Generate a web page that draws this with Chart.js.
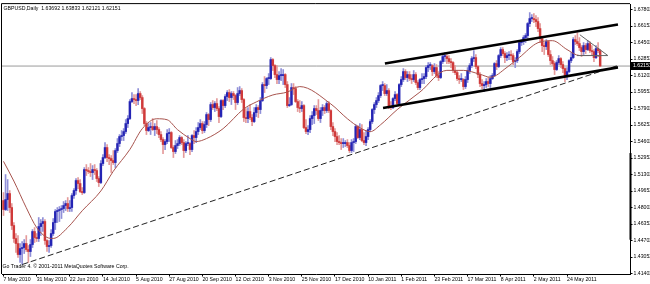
<!DOCTYPE html>
<html><head><meta charset="utf-8">
<script src="https://cdn.jsdelivr.net/npm/chart.js@4.4.1/dist/chart.umd.min.js"></script>
<style>html,body{margin:0;padding:0;background:#fff;overflow:hidden}canvas{display:block}</style>
</head><body>
<canvas id="c" width="650" height="284"></canvas>
<script>
// ---------------- data ----------------
const tickLabels = ["7 May 2010","31 May 2010","22 Jun 2010","14 Jul 2010","5 Aug 2010","27 Aug 2010","20 Sep 2010","12 Oct 2010","3 Nov 2010","25 Nov 2010","17 Dec 2010","10 Jan 2011","1 Feb 2011","23 Feb 2011","17 Mar 2011","8 Apr 2011","2 May 2011","24 May 2011"];
const barsPerLabel = 16;
const yTicks = [1.41402,1.43052,1.44702,1.46352,1.48002,1.49652,1.51302,1.52952,1.54602,1.56252,1.57902,1.59552,1.61202,1.62852,1.64502,1.66152,1.67802];

const opens = [
1.4870,1.4780,1.4880,1.4940,1.4800,1.4620,1.4490,1.4440,1.4330,1.4390,
1.4400,1.4440,1.4380,1.4360,1.4430,1.4560,1.4500,1.4490,1.4610,1.4640,
1.4660,1.4470,1.4410,1.4420,1.4540,1.4650,1.4760,1.4770,1.4780,1.4790,
1.4820,1.4840,1.4790,1.4800,1.4920,1.4970,1.5070,1.5040,1.4960,1.4950,
1.5180,1.5170,1.5160,1.5150,1.5180,1.5170,1.5090,1.5050,1.5240,1.5300,
1.5400,1.5300,1.5290,1.5270,1.5250,1.5370,1.5440,1.5510,1.5520,1.5560,
1.5640,1.5690,1.5860,1.5890,1.5880,1.5870,1.5940,1.5900,1.5790,1.5640,
1.5570,1.5600,1.5610,1.5580,1.5610,1.5580,1.5530,1.5480,1.5430,1.5460,
1.5540,1.5550,1.5400,1.5360,1.5420,1.5440,1.5500,1.5450,1.5370,1.5440,
1.5440,1.5380,1.5520,1.5500,1.5560,1.5600,1.5640,1.5570,1.5630,1.5730,
1.5680,1.5830,1.5800,1.5840,1.5790,1.5710,1.5870,1.5820,1.5910,1.5950,
1.5900,1.5940,1.5920,1.5850,1.5940,1.5970,1.5880,1.5700,1.5690,1.5760,
1.5700,1.5660,1.5750,1.5800,1.5780,1.5870,1.6030,1.6020,1.6090,1.6090,
1.6280,1.6220,1.6130,1.6080,1.6120,1.6120,1.6130,1.6030,1.5820,1.5830,
1.6000,1.5990,1.5860,1.5800,1.5790,1.5820,1.5600,1.5560,1.5580,1.5690,
1.5720,1.5790,1.5770,1.5690,1.5770,1.5800,1.5770,1.5840,1.5770,1.5610,
1.5560,1.5510,1.5460,1.5450,1.5440,1.5440,1.5450,1.5420,1.5370,1.5450,
1.5460,1.5610,1.5500,1.5580,1.5470,1.5450,1.5510,1.5580,1.5660,1.5780,
1.5830,1.5870,1.5920,1.6020,1.6020,1.5940,1.5970,1.5810,1.5800,1.5890,
1.5930,1.5840,1.6030,1.6080,1.6160,1.6100,1.6130,1.6090,1.6080,1.6130,
1.6050,1.6000,1.6080,1.6090,1.6110,1.6200,1.6220,1.6220,1.6160,1.6200,
1.6120,1.6100,1.6260,1.6310,1.6310,1.6290,1.6260,1.6250,1.6170,1.6150,
1.6090,1.6080,1.6080,1.6010,1.6080,1.6170,1.6220,1.6290,1.6300,1.6210,
1.6130,1.6040,1.6020,1.6030,1.6060,1.6040,1.6090,1.6120,1.6240,1.6210,
1.6320,1.6380,1.6340,1.6300,1.6320,1.6330,1.6320,1.6260,1.6270,1.6360,
1.6450,1.6460,1.6500,1.6520,1.6640,1.6690,1.6690,1.6680,1.6660,1.6590,
1.6490,1.6420,1.6410,1.6460,1.6330,1.6270,1.6240,1.6180,1.6250,1.6290,
1.6230,1.6190,1.6110,1.6160,1.6270,1.6300,1.6480,1.6460,1.6440,1.6400,
1.6360,1.6420,1.6380,1.6440,1.6370,1.6360,1.6300,1.6390,1.63692];

const highs = [
1.4950,1.5130,1.5080,1.4970,1.4840,1.4650,1.4540,1.4520,1.4440,1.4460,
1.4480,1.4520,1.4420,1.4480,1.4580,1.4600,1.4540,1.4700,1.4680,1.4700,
1.4680,1.4480,1.4470,1.4580,1.4690,1.4780,1.4800,1.4810,1.4820,1.4860,
1.4870,1.4900,1.4870,1.4940,1.4990,1.5090,1.5100,1.5080,1.5000,1.5200,
1.5230,1.5200,1.5240,1.5220,1.5230,1.5190,1.5110,1.5270,1.5330,1.5450,
1.5430,1.5330,1.5320,1.5370,1.5390,1.5490,1.5530,1.5570,1.5590,1.5680,
1.5720,1.5880,1.5950,1.5930,1.5930,1.5990,1.5960,1.5920,1.5800,1.5660,
1.5640,1.5650,1.5690,1.5640,1.5670,1.5600,1.5560,1.5500,1.5480,1.5580,
1.5590,1.5560,1.5420,1.5470,1.5480,1.5520,1.5510,1.5480,1.5460,1.5520,
1.5450,1.5530,1.5570,1.5600,1.5650,1.5680,1.5660,1.5660,1.5750,1.5740,
1.5850,1.5870,1.5860,1.5890,1.5810,1.5880,1.5880,1.5930,1.5970,1.5980,
1.5960,1.5960,1.5930,1.6000,1.6010,1.5990,1.5890,1.5790,1.5800,1.5830,
1.5730,1.5800,1.5830,1.5820,1.5900,1.6050,1.6110,1.6100,1.6140,1.6300,
1.6290,1.6230,1.6220,1.6160,1.6190,1.6180,1.6140,1.6060,1.5900,1.6040,
1.6040,1.6010,1.5880,1.5870,1.5860,1.5830,1.5680,1.5620,1.5720,1.5760,
1.5820,1.5820,1.5880,1.5800,1.5830,1.5820,1.5860,1.5860,1.5780,1.5650,
1.5590,1.5550,1.5520,1.5490,1.5490,1.5470,1.5480,1.5450,1.5480,1.5490,
1.5630,1.5620,1.5640,1.5630,1.5550,1.5570,1.5600,1.5680,1.5790,1.5850,
1.5900,1.5950,1.6030,1.6060,1.6040,1.6030,1.5990,1.5860,1.5900,1.5960,
1.5940,1.6040,1.6110,1.6190,1.6180,1.6160,1.6160,1.6130,1.6170,1.6150,
1.6070,1.6090,1.6140,1.6140,1.6220,1.6250,1.6250,1.6230,1.6240,1.6230,
1.6160,1.6270,1.6340,1.6350,1.6330,1.6320,1.6290,1.6260,1.6220,1.6170,
1.6120,1.6140,1.6090,1.6110,1.6200,1.6240,1.6310,1.6370,1.6330,1.6220,
1.6150,1.6080,1.6060,1.6090,1.6100,1.6120,1.6140,1.6250,1.6270,1.6330,
1.6400,1.6400,1.6360,1.6350,1.6360,1.6370,1.6340,1.6300,1.6380,1.6470,
1.6480,1.6520,1.6540,1.6650,1.6750,1.6730,1.6740,1.6720,1.6700,1.6640,
1.6500,1.6450,1.6480,1.6470,1.6370,1.6310,1.6260,1.6270,1.6320,1.6300,
1.6260,1.6200,1.6200,1.6280,1.6350,1.6500,1.6520,1.6550,1.6500,1.6420,
1.6450,1.6440,1.6470,1.6460,1.6420,1.6380,1.6420,1.6450,1.63833];

const lows = [
1.4720,1.4770,1.4770,1.4750,1.4580,1.4450,1.4350,1.4300,1.4250,1.4230,
1.4340,1.4360,1.4250,1.4310,1.4400,1.4450,1.4460,1.4460,1.4520,1.4560,
1.4430,1.4360,1.4350,1.4400,1.4520,1.4580,1.4650,1.4660,1.4690,1.4750,
1.4770,1.4760,1.4760,1.4760,1.4890,1.4930,1.4990,1.4950,1.4930,1.4940,
1.5120,1.5140,1.5110,1.5080,1.5130,1.5060,1.5010,1.5040,1.5220,1.5290,
1.5260,1.5230,1.5150,1.5230,1.5200,1.5350,1.5410,1.5470,1.5470,1.5540,
1.5600,1.5680,1.5850,1.5840,1.5820,1.5830,1.5880,1.5740,1.5620,1.5530,
1.5560,1.5530,1.5570,1.5520,1.5540,1.5500,1.5460,1.5340,1.5380,1.5440,
1.5460,1.5390,1.5300,1.5340,1.5390,1.5420,1.5430,1.5300,1.5350,1.5420,
1.5330,1.5360,1.5440,1.5450,1.5530,1.5580,1.5540,1.5550,1.5600,1.5620,
1.5660,1.5780,1.5760,1.5770,1.5650,1.5700,1.5780,1.5800,1.5870,1.5860,
1.5830,1.5880,1.5780,1.5830,1.5920,1.5850,1.5660,1.5650,1.5650,1.5680,
1.5620,1.5650,1.5710,1.5700,1.5740,1.5860,1.5950,1.5990,1.6030,1.6080,
1.6170,1.6100,1.6040,1.6040,1.6070,1.6030,1.6000,1.5800,1.5810,1.5820,
1.5930,1.5850,1.5760,1.5750,1.5760,1.5590,1.5540,1.5530,1.5550,1.5630,
1.5640,1.5730,1.5670,1.5650,1.5720,1.5740,1.5750,1.5750,1.5580,1.5520,
1.5460,1.5430,1.5430,1.5380,1.5400,1.5410,1.5400,1.5350,1.5350,1.5360,
1.5440,1.5490,1.5480,1.5460,1.5430,1.5420,1.5480,1.5560,1.5640,1.5740,
1.5800,1.5850,1.5900,1.5970,1.5920,1.5920,1.5790,1.5780,1.5790,1.5870,
1.5830,1.5820,1.6010,1.6060,1.6080,1.6060,1.6070,1.6040,1.6060,1.6030,
1.5980,1.5980,1.6040,1.6040,1.6090,1.6160,1.6180,1.6120,1.6140,1.6100,
1.6070,1.6090,1.6240,1.6260,1.6240,1.6240,1.6200,1.6150,1.6130,1.6070,
1.6040,1.6060,1.5980,1.5990,1.6050,1.6140,1.6200,1.6260,1.6190,1.6100,
1.6010,1.5990,1.5960,1.6000,1.6010,1.6000,1.6080,1.6110,1.6180,1.6200,
1.6300,1.6320,1.6250,1.6270,1.6280,1.6280,1.6230,1.6200,1.6250,1.6340,
1.6420,1.6430,1.6450,1.6490,1.6610,1.6660,1.6650,1.6610,1.6560,1.6450,
1.6360,1.6330,1.6380,1.6310,1.6230,1.6220,1.6130,1.6170,1.6230,1.6200,
1.6150,1.6060,1.6080,1.6150,1.6250,1.6290,1.6430,1.6420,1.6370,1.6310,
1.6330,1.6340,1.6370,1.6350,1.6320,1.6260,1.6290,1.6350,1.62121];

const closes = [
1.4780,1.4880,1.4940,1.4800,1.4620,1.4490,1.4440,1.4330,1.4390,1.4400,
1.4440,1.4380,1.4360,1.4430,1.4560,1.4500,1.4490,1.4610,1.4640,1.4660,
1.4470,1.4410,1.4420,1.4540,1.4650,1.4760,1.4770,1.4780,1.4790,1.4820,
1.4840,1.4790,1.4800,1.4920,1.4970,1.5070,1.5040,1.4960,1.4950,1.5180,
1.5170,1.5160,1.5150,1.5180,1.5170,1.5090,1.5050,1.5240,1.5300,1.5400,
1.5300,1.5290,1.5270,1.5250,1.5370,1.5440,1.5510,1.5520,1.5560,1.5640,
1.5690,1.5860,1.5890,1.5880,1.5870,1.5940,1.5900,1.5790,1.5640,1.5570,
1.5600,1.5610,1.5580,1.5610,1.5580,1.5530,1.5480,1.5430,1.5460,1.5540,
1.5550,1.5400,1.5360,1.5420,1.5440,1.5500,1.5450,1.5370,1.5440,1.5440,
1.5380,1.5520,1.5500,1.5560,1.5600,1.5640,1.5570,1.5630,1.5730,1.5680,
1.5830,1.5800,1.5840,1.5790,1.5710,1.5870,1.5820,1.5910,1.5950,1.5900,
1.5940,1.5920,1.5850,1.5940,1.5970,1.5880,1.5700,1.5690,1.5760,1.5700,
1.5660,1.5750,1.5800,1.5780,1.5870,1.6030,1.6020,1.6090,1.6090,1.6280,
1.6220,1.6130,1.6080,1.6120,1.6120,1.6130,1.6030,1.5820,1.5830,1.6000,
1.5990,1.5860,1.5800,1.5790,1.5820,1.5600,1.5560,1.5580,1.5690,1.5720,
1.5790,1.5770,1.5690,1.5770,1.5800,1.5770,1.5840,1.5770,1.5610,1.5560,
1.5510,1.5460,1.5450,1.5440,1.5440,1.5450,1.5420,1.5370,1.5450,1.5460,
1.5610,1.5500,1.5580,1.5470,1.5450,1.5510,1.5580,1.5660,1.5780,1.5830,
1.5870,1.5920,1.6020,1.6020,1.5940,1.5970,1.5810,1.5800,1.5890,1.5930,
1.5840,1.6030,1.6080,1.6160,1.6100,1.6130,1.6090,1.6080,1.6130,1.6050,
1.6000,1.6080,1.6090,1.6110,1.6200,1.6220,1.6220,1.6160,1.6200,1.6120,
1.6100,1.6260,1.6310,1.6310,1.6290,1.6260,1.6250,1.6170,1.6150,1.6090,
1.6080,1.6080,1.6010,1.6080,1.6170,1.6220,1.6290,1.6300,1.6210,1.6130,
1.6040,1.6020,1.6030,1.6060,1.6040,1.6090,1.6120,1.6240,1.6210,1.6320,
1.6380,1.6340,1.6300,1.6320,1.6330,1.6320,1.6260,1.6270,1.6360,1.6450,
1.6460,1.6500,1.6520,1.6640,1.6690,1.6690,1.6680,1.6660,1.6590,1.6490,
1.6420,1.6410,1.6460,1.6330,1.6270,1.6240,1.6180,1.6250,1.6290,1.6230,
1.6190,1.6110,1.6160,1.6270,1.6300,1.6480,1.6460,1.6440,1.6400,1.6360,
1.6420,1.6380,1.6440,1.6370,1.6360,1.6300,1.6390,1.6369,1.62151];

// moving average: [bar index, price]
const maPoints = [[0,1.5262],[5,1.5065],[11,1.4798],[16,1.4600],[21,1.4501],[24,1.4491],[31,1.4600],[38,1.4768],[47,1.4966],[53,1.5163],[61,1.5381],[67,1.5589],[74,1.5688],[79,1.5678],[84,1.5579],[90,1.5490],[93,1.5460],[98,1.5490],[106,1.5589],[116,1.5787],[122,1.5856],[130,1.5926],[137,1.5955],[143,1.6010],[158,1.5836],[166,1.5688],[172,1.5599],[177,1.5559],[182,1.5628],[190,1.5779],[196,1.5876],[201,1.5955],[214,1.6172],[222,1.6172],[230,1.6133],[235,1.6103],[243,1.6202],[249,1.6301],[258,1.6449],[265,1.6469],[272,1.6380],[278,1.6321],[285,1.6321],[288,1.6311]];

// drawn objects: [bar index, price]
const upperChannel = [[184.1,1.6241],[296.6,1.6630]];
const lowerChannel = [[183.2,1.5796],[296.6,1.6202]];
const supportLine  = [[9,1.4230],[296.6,1.6221]];
const triangleLine = [[278.2,1.6528],[291.7,1.6320]];
const triangleBase = [[276.8,1.6320],[291.7,1.6320]];
const lastPrice = 1.62151;
const axisMarkRange = [1.4478, 1.5345];
const titleText = "GBPUSD,Daily  1.63692 1.63833 1.62121 1.62151";
const footerText = "Go Trader 4. \u00A9 2001-2011 MetaQuotes Software Corp.";

// ---------------- fonts ----------------
function hasFont(name){
  const c=document.createElement('canvas').getContext('2d');
  const s='abcdefghijklmnopqrstuvwxyz0123456789 ABCDEFGH';
  c.font='30px monospace'; const a=c.measureText(s).width;
  c.font='30px "'+name+'", monospace'; const b=c.measureText(s).width;
  return Math.abs(a-b)>0.5;
}
const narrow = hasFont('Liberation Sans Narrow');
const FAMILY = narrow ? '"Liberation Sans Narrow", "Liberation Sans", Arial, sans-serif' : '"Liberation Sans", Arial, sans-serif';
const FSIZE = narrow ? 6.3 : 5.2;

// ---------------- build ----------------
const idx = closes.map((_, i) => i);
const up = i => closes[i] >= opens[i];
const pts = arr => arr.map(p => ({x: p[0], y: p[1]}));
const BULL = '#2424b4', BEAR = '#d03a3a', BULL_W = '#8f8fd8', BEAR_W = '#e49a9a';

const bgPlugin = {
  id: 'bg',
  beforeDraw(chart){ const c=chart.ctx; c.save(); c.fillStyle='#fff'; c.fillRect(0,0,chart.width,chart.height); c.restore(); }
};
const overlay = {
  id: 'overlay',
  afterDraw(chart){
    const {ctx, chartArea:a, scales} = chart; const y = scales.y;
    ctx.save();
    ctx.strokeStyle = '#000'; ctx.lineWidth = 1;
    ctx.beginPath();
    ctx.moveTo(a.left-0.5, a.bottom); ctx.lineTo(a.left-0.5, a.top-0.5); ctx.lineTo(a.right, a.top-0.5);
    ctx.stroke();
    // thick mark on the price axis
    const y1 = y.getPixelForValue(axisMarkRange[1]), y0 = y.getPixelForValue(axisMarkRange[0]);
    ctx.fillStyle = '#000'; ctx.fillRect(a.right-0.5, y1, 2, y0-y1);
    // texts
    ctx.font = FSIZE + 'px ' + FAMILY; ctx.fillStyle = '#000'; ctx.textBaseline = 'middle'; ctx.textAlign = 'left';
    ctx.fillText(titleText, a.left + 1.5, a.top + 4.5);
    ctx.fillText(footerText, a.left + 0.5, a.bottom - 7);
    // last price box
    const py = y.getPixelForValue(lastPrice);
    ctx.fillStyle = '#000'; ctx.fillRect(a.right + 0.5, Math.round(py) - 4, 20, 8);
    ctx.fillStyle = '#fff'; ctx.fillText(lastPrice.toFixed(5), a.right + 3, Math.round(py));
    ctx.restore();
  }
};

new Chart(document.getElementById('c'), {
  type: 'bar',
  data: {
    datasets: [
      { type:'line', data: pts(upperChannel), borderColor:'#000', borderWidth:2.6, pointRadius:0, order:1 },
      { type:'line', data: pts(lowerChannel), borderColor:'#000', borderWidth:2.6, pointRadius:0, order:1 },
      { type:'line', data: pts(supportLine), borderColor:'#222', borderWidth:1, borderDash:[6,3], pointRadius:0, order:1 },
      { type:'line', data: pts(triangleLine), borderColor:'#666', borderWidth:1, pointRadius:0, order:1 },
      { type:'line', data: pts(triangleBase), borderColor:'#666', borderWidth:1, pointRadius:0, order:1 },
      { type:'line', data: pts(maPoints), borderColor:'#a8544e', borderWidth:1, pointRadius:0, cubicInterpolationMode:'monotone', order:2 },
      { type:'bar', data: idx.map(i => ({x:i, y:[opens[i], closes[i]]})), grouped:false, barThickness:1.8, minBarLength:1,
        backgroundColor: ctx => up(ctx.dataIndex) ? BULL : BEAR, borderWidth:0, order:3 },
      { type:'bar', data: idx.map(i => ({x:i, y:[lows[i], highs[i]]})), grouped:false, barThickness:1,
        backgroundColor: ctx => up(ctx.dataIndex) ? BULL_W : BEAR_W, borderWidth:0, order:4 },
      { type:'line', data: [{x:-1, y:lastPrice},{x:303, y:lastPrice}], borderColor:'#9a9a9a', borderWidth:1, pointRadius:0, order:5 }
    ]
  },
  options: {
    responsive:false, animation:false, devicePixelRatio:1,
    layout:{ padding:{left:2, top:1, right:0, bottom:0}, autoPadding:false },
    plugins:{ legend:{display:false}, tooltip:{enabled:false} },
    scales:{
      x:{
        type:'linear', min:-0.72, max:302.4, offset:false,
        grid:{ drawOnChartArea:false, tickLength:2.5, color:'#000', offset:false },
        border:{ color:'#000' },
        afterBuildTicks: s => { s.ticks = tickLabels.map((_, k) => ({value: k*barsPerLabel})); },
        afterFit: s => { s.height = 10; },
        ticks:{ autoSkip:false, maxRotation:0, minRotation:0, align:'start', padding:0, color:'#000',
          font:{ family:FAMILY, size:FSIZE }, callback: v => tickLabels[Math.round(v/barsPerLabel)] }
      },
      y:{
        position:'right', min:1.41353, max:1.68346,
        grid:{ drawOnChartArea:false, tickLength:2.5, color:'#000' },
        border:{ color:'#000' },
        afterBuildTicks: s => { s.ticks = yTicks.map(v => ({value:v})); },
        afterFit: s => { s.width = 20; },
        ticks:{ padding:1, color:'#000', font:{ family:FAMILY, size:FSIZE }, callback: v => Number(v).toFixed(5) }
      }
    }
  },
  plugins:[bgPlugin, overlay]
});
</script>
</body></html>
